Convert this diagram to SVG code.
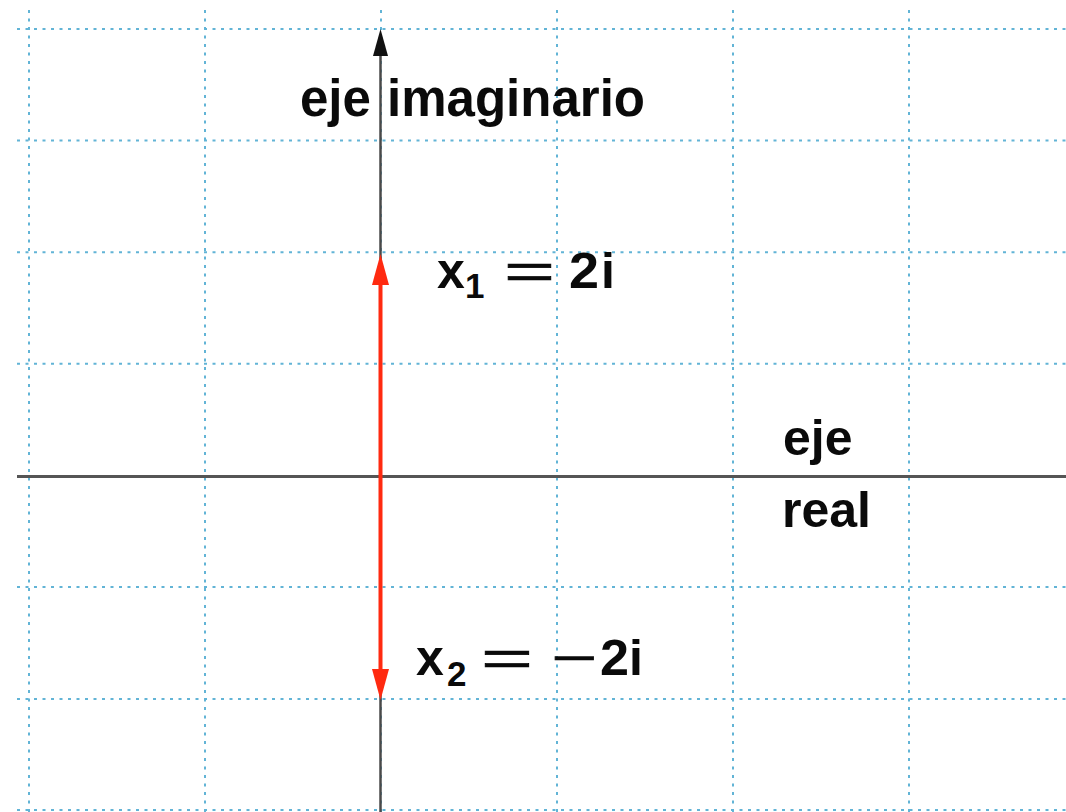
<svg xmlns="http://www.w3.org/2000/svg" width="1066" height="812" viewBox="0 0 1066 812">
  <style>
    .grid line { stroke: #62b4d6; stroke-width: 2; stroke-dasharray: 3 5.5; }
    .lbl { font-family: "Liberation Sans", Arial, sans-serif; font-weight: bold; fill: #0a0a0a; }
    .op { font-family: "Liberation Sans", Arial, sans-serif; font-weight: normal; fill: #0a0a0a; stroke: #0a0a0a; stroke-width: 0.6; }
    .axis { stroke: #4a4a4a; stroke-width: 2.5; fill: none; }
    .red { stroke: #ff2a10; stroke-width: 4; fill: none; }
  </style>
  <rect x="0" y="0" width="1066" height="812" fill="#ffffff"/>
  <g id="grid" class="grid">
    <line x1="29" y1="10" x2="29" y2="812"/>
    <line x1="205" y1="10" x2="205" y2="812"/>
    <line x1="381" y1="10" x2="381" y2="812"/>
    <line x1="557" y1="10" x2="557" y2="812"/>
    <line x1="733" y1="10" x2="733" y2="812"/>
    <line x1="909" y1="10" x2="909" y2="812"/>
    <line x1="17" y1="29" x2="1066" y2="29"/>
    <line x1="17" y1="140.6" x2="1066" y2="140.6"/>
    <line x1="17" y1="252.2" x2="1066" y2="252.2"/>
    <line x1="17" y1="363.8" x2="1066" y2="363.8"/>
    <line x1="17" y1="587" x2="1066" y2="587"/>
    <line x1="17" y1="699" x2="1066" y2="699"/>
    <line x1="17" y1="810" x2="1066" y2="810"/>
  </g>
  <g id="connectors">
    <g id="real-axis">
      <line x1="17" y1="476.5" x2="1066" y2="476.5" stroke="#555555" stroke-width="3"/>
    </g>
    <g id="imaginary-axis">
      <line class="axis" x1="380.5" y1="52" x2="380.5" y2="812"/>
      <polygon points="380.5,29 373,56 388,56" fill="#111111"/>
    </g>
    <g id="root-arrow">
      <line class="red" x1="380.5" y1="280" x2="380.5" y2="674"/>
      <polygon points="380.5,254 372,285 389,285" fill="#ff2a10"/>
      <polygon points="380.5,700 372,669 389,669" fill="#ff2a10"/>
    </g>
  </g>
  <g id="label-imaginary">
    <text class="lbl" x="300" y="116" font-size="51" word-spacing="2">eje imaginario</text>
  </g>
  <g id="label-real">
    <text class="lbl" x="783" y="455" font-size="50">eje</text>
    <text class="lbl" x="782" y="527" font-size="50">real</text>
  </g>
  <g id="root-x1">
    <text class="lbl" x="437" y="288" font-size="50">x</text>
    <text class="lbl" x="465" y="298" font-size="35">1</text>
    <text class="op" x="504" y="288" font-size="50" textLength="51" lengthAdjust="spacingAndGlyphs">=</text>
    <text class="lbl" x="569" y="288" font-size="50" textLength="30" lengthAdjust="spacingAndGlyphs">2</text>
    <text class="lbl" x="601" y="288" font-size="50">i</text>
  </g>
  <g id="root-x2">
    <text class="lbl" x="416" y="675" font-size="50">x</text>
    <text class="lbl" x="447" y="686" font-size="35">2</text>
    <text class="op" x="481" y="675" font-size="50" textLength="52" lengthAdjust="spacingAndGlyphs">=</text>
    <text class="op" x="551" y="675" font-size="50" textLength="46" lengthAdjust="spacingAndGlyphs">−</text>
    <text class="lbl" x="600" y="675" font-size="50" textLength="29" lengthAdjust="spacingAndGlyphs">2</text>
    <text class="lbl" x="629" y="675" font-size="50">i</text>
  </g>
</svg>
